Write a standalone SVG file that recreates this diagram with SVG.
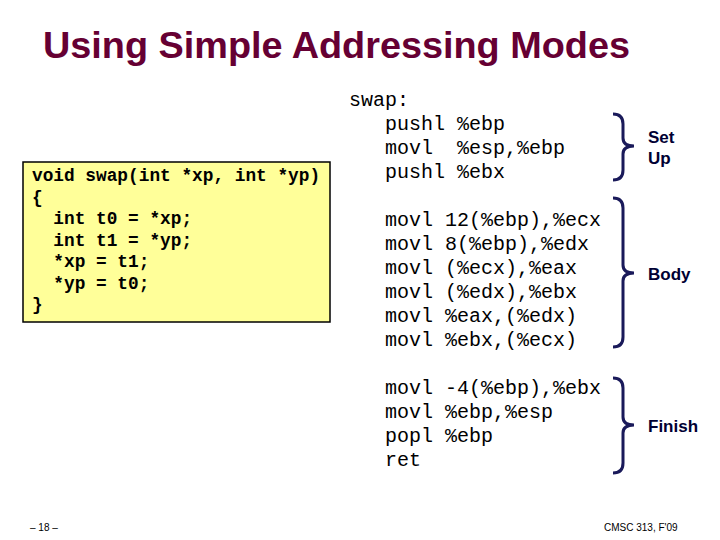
<svg xmlns="http://www.w3.org/2000/svg" width="720" height="540" viewBox="0 0 720 540">
<style>
.t{font-family:"Liberation Sans",Arial,sans-serif;font-weight:bold;fill:#660033;font-size:37px}
.c{font-family:"Liberation Mono","Courier New",monospace;font-weight:bold;fill:#000;font-size:17.8px;white-space:pre}
.a{font-family:"Liberation Mono","Courier New",monospace;fill:#000;font-size:20px;white-space:pre}
.l{font-family:"Liberation Sans",Arial,sans-serif;font-weight:bold;fill:#000033;font-size:17px}
.s{font-family:"Liberation Sans",Arial,sans-serif;fill:#000;font-size:10px}
.b{fill:none;stroke:#1a1a5a;stroke-width:3}
</style>
<rect width="720" height="540" fill="#fff"/>
<text class="t" x="43" y="58" textLength="587" lengthAdjust="spacingAndGlyphs">Using Simple Addressing Modes</text>
<g id="code">
<rect x="23" y="162" width="307" height="160" fill="#ffff99" stroke="#000" stroke-width="1.5"/>
<text class="c" x="32" y="181">void swap(int *xp, int *yp)</text>
<text class="c" x="32" y="203">{</text>
<text class="c" x="32" y="224">  int t0 = *xp;</text>
<text class="c" x="32" y="246">  int t1 = *yp;</text>
<text class="c" x="32" y="267">  *xp = t1;</text>
<text class="c" x="32" y="289">  *yp = t0;</text>
<text class="c" x="32" y="310">}</text>
</g>
<g id="asm">
<text class="a" x="349" y="106">swap:</text>
<text class="a" x="385" y="130">pushl %ebp</text>
<text class="a" x="385" y="154">movl  %esp,%ebp</text>
<text class="a" x="385" y="178">pushl %ebx</text>
<text class="a" x="385" y="226">movl 12(%ebp),%ecx</text>
<text class="a" x="385" y="250">movl 8(%ebp),%edx</text>
<text class="a" x="385" y="274">movl (%ecx),%eax</text>
<text class="a" x="385" y="298">movl (%edx),%ebx</text>
<text class="a" x="385" y="322">movl %eax,(%edx)</text>
<text class="a" x="385" y="346">movl %ebx,(%ecx)</text>
<text class="a" x="385" y="394">movl -4(%ebp),%ebx</text>
<text class="a" x="385" y="418">movl %ebp,%esp</text>
<text class="a" x="385" y="442">popl %ebp</text>
<text class="a" x="385" y="466">ret</text>
</g>
<g id="braces">
<path class="b" d="M613,114 Q623,114 623,124 L623,138 Q623,146 634,146 Q623,146 623,154 L623,170 Q623,180 613,180"/>
<path class="b" d="M613,198 Q623,198 623,208 L623,265 Q623,273 634,273 Q623,273 623,281 L623,337 Q623,347 613,347"/>
<path class="b" d="M613,378 Q623,378 623,388 L623,417 Q623,425 634,425 Q623,425 623,433 L623,463 Q623,473 613,473"/>
</g>
<text class="l" x="648" y="143">Set</text>
<text class="l" x="648" y="164">Up</text>
<text class="l" x="648" y="280">Body</text>
<text class="l" x="648" y="432">Finish</text>
<text class="s" x="30" y="531">– 18 –</text>
<text class="s" x="604" y="531">CMSC 313, F'09</text>
</svg>
